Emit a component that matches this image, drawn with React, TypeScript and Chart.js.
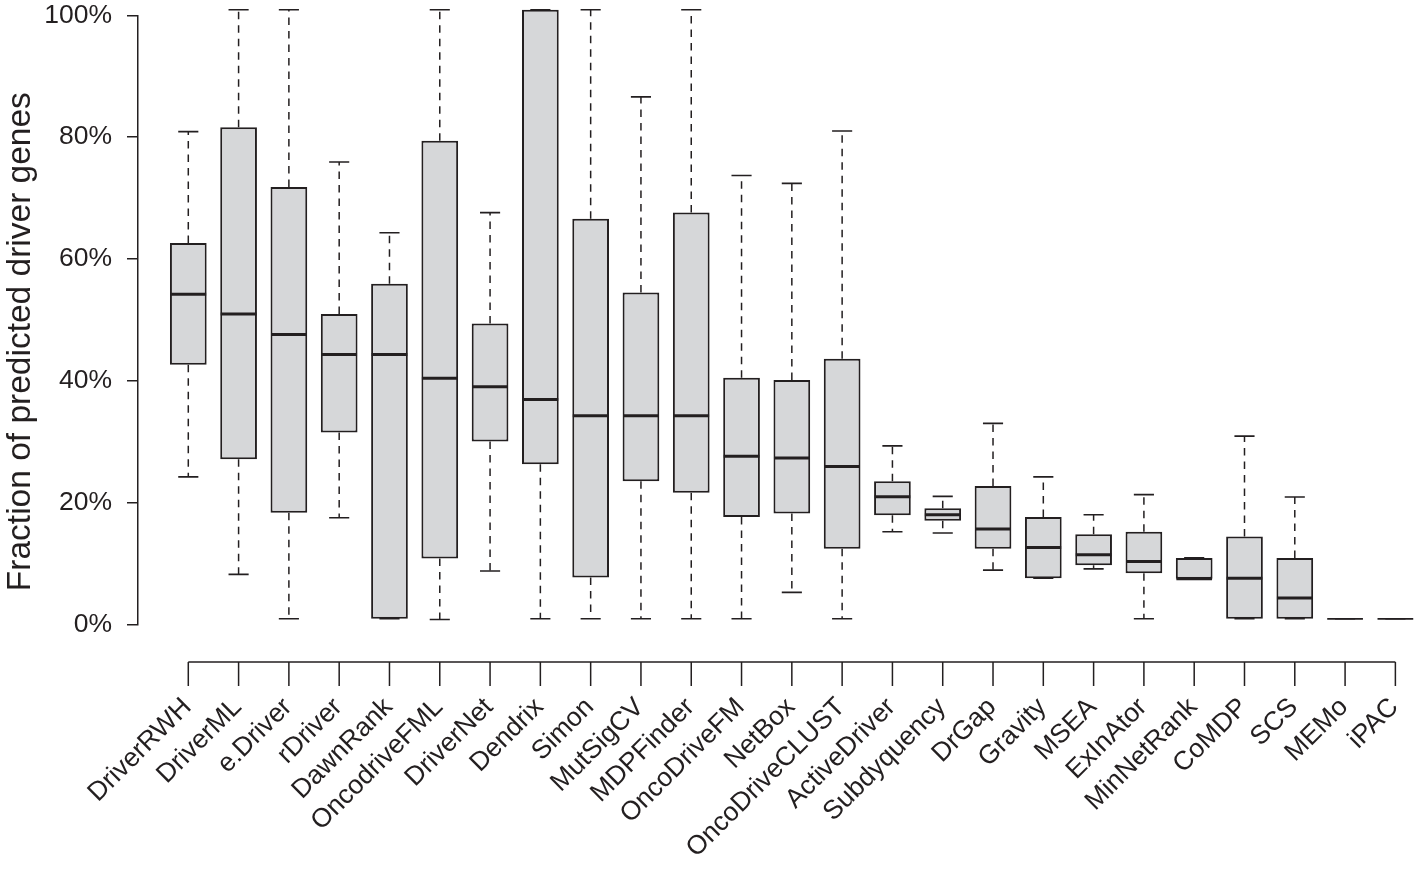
import React, { useEffect, useRef } from "react";
import { Chart, registerables } from "chart.js";

Chart.register(...registerables);

// ---- data (fractions in %) ----
const methods = [
  "DriverRWH", "DriverML", "e.Driver", "rDriver", "DawnRank", "OncodriveFML",
  "DriverNet", "Dendrix", "Simon", "MutSigCV", "MDPFinder", "OncoDriveFM",
  "NetBox", "OncoDriveCLUST", "ActiveDriver", "Subdyquency", "DrGap", "Gravity",
  "MSEA", "ExInAtor", "MinNetRank", "CoMDP", "SCS", "MEMo", "iPAC",
];
const whiskerLow = [24.2, 8.2, 0.9, 17.5, 0.9, 0.8, 8.75, 0.9, 0.9, 0.9, 0.9, 0.9, 5.25, 0.9, 15.2, 15.0, 8.9, 7.55, 9.1, 0.9, 7.5, 0.9, 0.9, 0.9, 0.9];
const quartile1 = [42.6, 27.1, 18.3, 31.5, 0.9, 10.8, 30.0, 26.3, 7.7, 23.5, 21.6, 17.6, 18.2, 12.4, 17.9, 17.0, 12.4, 7.55, 9.7, 8.4, 7.5, 0.9, 0.9, 0.9, 0.9];
const medians = [54.2, 50.95, 47.6, 44.3, 44.3, 40.4, 39.0, 36.9, 34.25, 34.25, 34.25, 27.6, 27.3, 25.9, 20.95, 18.0, 15.65, 12.6, 11.4, 10.3, 7.5, 7.55, 4.3, 0.9, 0.9];
const quartile3 = [62.6, 81.6, 71.8, 50.95, 55.9, 79.4, 49.4, 100.9, 66.6, 54.5, 67.6, 40.5, 40.1, 43.6, 23.5, 19.05, 22.7, 17.6, 14.8, 15.2, 10.9, 14.4, 10.9, 0.9, 0.9];
const whiskerHigh = [80.9, 100.9, 100.9, 75.9, 64.3, 100.9, 67.6, 100.9, 100.9, 86.6, 100.9, 73.7, 72.4, 81.0, 29.3, 21.0, 33.0, 24.2, 18.0, 21.3, 10.9, 30.9, 20.9, 0.9, 0.9];
const yTickStep = 20;
const yMin = 0;
const yMax = 100;
const yTitle = "Fraction of predicted driver genes";

// ---- style ----
const FONT = "'Liberation Sans', Arial, Helvetica, sans-serif";
const INK = "#231f20";
const BOX_FILL = "#d6d7d9";

const boxExtras = {
  id: "boxExtras",
  afterDatasetsDraw(chart: any) {
    const { ctx, scales, chartArea } = chart;
    const x = scales.x;
    const y = scales.y;
    const unit = x.getPixelForValue(1) - x.getPixelForValue(0);
    const staple = unit * 0.4;
    const boxHalf = unit * 0.73 / 2;
    ctx.save();
    ctx.strokeStyle = INK;
    ctx.lineCap = "butt";
    methods.forEach((_, i) => {
      const cx = x.getPixelForValue(i);
      const yHi = y.getPixelForValue(whiskerHigh[i]);
      const yLo = y.getPixelForValue(whiskerLow[i]);
      const yQ3 = y.getPixelForValue(quartile3[i]);
      const yQ1 = y.getPixelForValue(quartile1[i]);
      const yMed = y.getPixelForValue(medians[i]);
      // dashed whiskers
      ctx.lineWidth = 1.5;
      ctx.setLineDash([7.5, 6]);
      ctx.beginPath();
      if (yHi < yQ3) { ctx.moveTo(cx, yQ3); ctx.lineTo(cx, yHi); }
      if (yLo > yQ1) { ctx.moveTo(cx, yQ1); ctx.lineTo(cx, yLo); }
      ctx.stroke();
      ctx.setLineDash([]);
      // staples
      ctx.lineWidth = 1.6;
      ctx.beginPath();
      ctx.moveTo(cx - staple / 2, yHi); ctx.lineTo(cx + staple / 2, yHi);
      ctx.moveTo(cx - staple / 2, yLo); ctx.lineTo(cx + staple / 2, yLo);
      ctx.stroke();
      // median
      ctx.lineWidth = quartile3[i] === quartile1[i] ? 1.8 : 3;
      ctx.beginPath();
      ctx.moveTo(cx - boxHalf + 0.5, yMed); ctx.lineTo(cx + boxHalf - 0.5, yMed);
      ctx.stroke();
    });

    // R-style category axis, detached below the plot
    const axisY = chartArea.bottom + 37.7;
    const x0 = x.getPixelForValue(0);
    const x1 = x.getPixelForValue(methods.length - 1);
    ctx.lineWidth = 1.5;
    ctx.beginPath();
    ctx.moveTo(x0, axisY); ctx.lineTo(x1, axisY);
    methods.forEach((_, i) => {
      const cx = x.getPixelForValue(i);
      ctx.moveTo(cx, axisY); ctx.lineTo(cx, axisY + 24);
    });
    ctx.stroke();

    ctx.fillStyle = INK;
    ctx.font = `26.5px ${FONT}`;
    ctx.textAlign = "right";
    ctx.textBaseline = "middle";
    methods.forEach((m, i) => {
      const cx = x.getPixelForValue(i);
      ctx.save();
      ctx.translate(cx - 1, axisY + 41);
      ctx.rotate(-Math.PI / 4);
      ctx.fillText(m, 0, 0);
      ctx.restore();
    });

    // y-axis title
    ctx.save();
    ctx.font = `33.5px ${FONT}`;
    ctx.textAlign = "center";
    ctx.textBaseline = "alphabetic";
    ctx.translate(29.5, (chartArea.top + axisY) / 2 + 3);
    ctx.rotate(-Math.PI / 2);
    ctx.fillText(yTitle, 0, 0);
    ctx.restore();

    ctx.restore();
  },
};

export default function App() {
  const ref = useRef<HTMLCanvasElement>(null);
  useEffect(() => {
    const canvas = ref.current;
    if (!canvas) return;
    const chart = new Chart(canvas, {
      type: "bar",
      data: {
        datasets: [
          {
            data: methods.map((_, i) => ({ x: i, y: [quartile1[i], quartile3[i]] })) as any,
            backgroundColor: BOX_FILL,
            borderColor: INK,
            borderWidth: 2,
            borderSkipped: false,
            barPercentage: 0.73,
            categoryPercentage: 1,
            clip: false as any,
          },
        ],
      },
      options: {
        responsive: false,
        animation: false,
        events: [],
        layout: { padding: { top: 15.3, bottom: 245.7, left: 0, right: 0 } },
        plugins: { legend: { display: false }, tooltip: { enabled: false } },
        scales: {
          x: {
            type: "linear",
            offset: false,
            min: -1,
            max: 24.41,
            display: false,
            ticks: { stepSize: 1, includeBounds: false, display: false },
            grid: { display: false, offset: false },
          },
          y: {
            min: yMin,
            max: yMax,
            ticks: {
              stepSize: yTickStep,
              padding: 15,
              color: INK,
              font: { family: FONT, size: 26.5 },
              callback: (v: any) => `${v}%`,
            },
            grid: {
              drawOnChartArea: false,
              drawTicks: true,
              tickLength: 11,
              color: INK,
              lineWidth: 1.5,
            },
            border: { color: INK, width: 1.5 },
            afterFit: (scale: any) => {
              scale.width = 138;
              scale.paddingTop = 0;
              scale.paddingBottom = 0;
            },
          },
        },
      } as any,
      plugins: [boxExtras],
    });
    return () => chart.destroy();
  }, []);
  return (
    <div style={{ position: "absolute", left: 0, top: 0, width: 1416, height: 870, background: "#fff" }}>
      <canvas ref={ref} width={1416} height={870} style={{ display: "block" }} />
    </div>
  );
}
